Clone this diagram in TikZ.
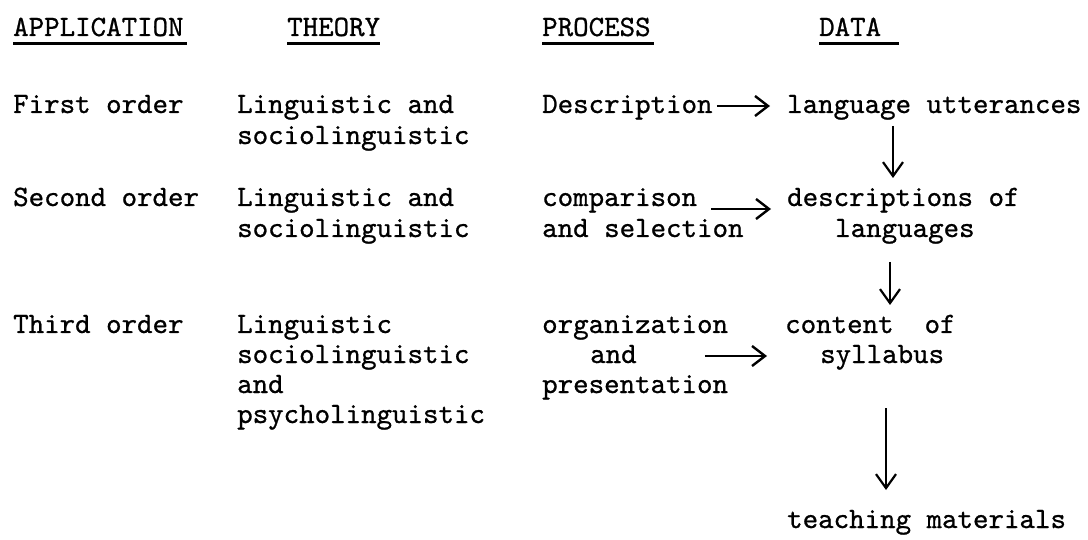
\documentclass[tikz,border=0pt]{standalone}
\usepackage{fontspec}
\usetikzlibrary{arrows.meta,calc}

% typewriter face, slightly emboldened
\newfontfamily\twfont{lmmono10-regular.otf}[FakeBold=0.8]

\tikzset{
  x=1pt, y=1pt,
  tw/.style={inner sep=0pt, anchor=base west,
    font=\twfont\fontsize{29.5}{31}\selectfont},
  uline/.style={line width=3pt},
  varrow/.style={line width=1.8pt,
    -{Straight Barb[length=14pt,width=20pt,line width=2.2pt]}},
  harrow/.style={line width=2.6pt,
    -{Straight Barb[length=13pt,width=20pt,line width=2.4pt]}},
}

\begin{document}
\begin{tikzpicture}
  \useasboundingbox (0,0) rectangle (1088,-540);

  % column headings
  \node[tw] (happ)  at (13,-36)  {APPLICATION};
  \node[tw] (htheo) at (287,-36) {THEORY};
  \node[tw] (hproc) at (542,-36) {PROCESS};
  \node[tw] (hdata) at (819,-36) {DATA};
  \draw[uline] ([yshift=-8pt]happ.base west)  -- ([xshift=3pt,yshift=-8pt]happ.base east);
  \draw[uline] ([yshift=-8pt]htheo.base west) -- ([yshift=-8pt]htheo.base east);
  \draw[uline] ([yshift=-8pt]hproc.base west) -- ([xshift=3pt,yshift=-8pt]hproc.base east);
  \draw[uline] ([yshift=-8pt]hdata.base west) -- ([xshift=18pt,yshift=-8pt]hdata.base east);

  % first order
  \node[tw] (a1)  at (13,-113)  {First order};
  \node[tw] (t1a) at (237,-113) {Linguistic and};
  \node[tw] (t1b) at (237,-144) {sociolinguistic};
  \node[tw] (p1)  at (542,-113) {Description};
  \node[tw] (d1)  at (787,-113) {language utterances};

  % second order
  \node[tw] (a2)  at (13,-206)  {Second order};
  \node[tw] (t2a) at (237,-206) {Linguistic and};
  \node[tw] (t2b) at (237,-237) {sociolinguistic};
  \node[tw] (p2a) at (542,-206) {comparison};
  \node[tw] (p2b) at (542,-237) {and selection};
  \node[tw] (d2a) at (787,-206) {descriptions of};
  \node[tw] (d2b) at (835,-237) {languages};

  % third order
  \node[tw] (a3)  at (13,-333)  {Third order};
  \node[tw] (t3a) at (237,-333) {Linguistic};
  \node[tw] (t3b) at (237,-363) {sociolinguistic};
  \node[tw] (t3c) at (237,-393) {and};
  \node[tw] (t3d) at (237,-423) {psycholinguistic};
  \node[tw] (p3a) at (542,-333) {organization};
  \node[tw] (p3b) at (590,-363) {and};
  \node[tw] (p3c) at (542,-393) {presentation};
  \node[tw] (d3a) at (785,-333) {content\ \ of};
  \node[tw] (d3b) at (820,-363) {syllabus};

  % final product
  \node[tw] (d4)  at (787,-528) {teaching materials};

  % process -> data
  \draw[harrow] ([xshift=4pt,yshift=7pt]p1.base east)
             -- ([xshift=-17pt,yshift=7pt]d1.base west);
  \draw[harrow] ([xshift=14pt,yshift=-3pt]p2a.base east)
             -- ([xshift=-16pt,yshift=-3pt]d2a.base west);
  \draw[harrow] ([xshift=68pt,yshift=7pt]p3b.base east)
             -- ([xshift=-53pt,yshift=7pt]d3b.base west);

  % data chain
  \draw[varrow] ($(d1.base west)+(106,-13)$)  -- ($(d2a.base west)+(106,28)$);
  \draw[varrow] ($(d2b.base west)+(55,-25)$)  -- ($(d3a.base west)+(105,28)$);
  \draw[varrow] ($(d3b.base west)+(66,-45)$)  -- ($(d4.base west)+(99,38)$);
\end{tikzpicture}
\end{document}
